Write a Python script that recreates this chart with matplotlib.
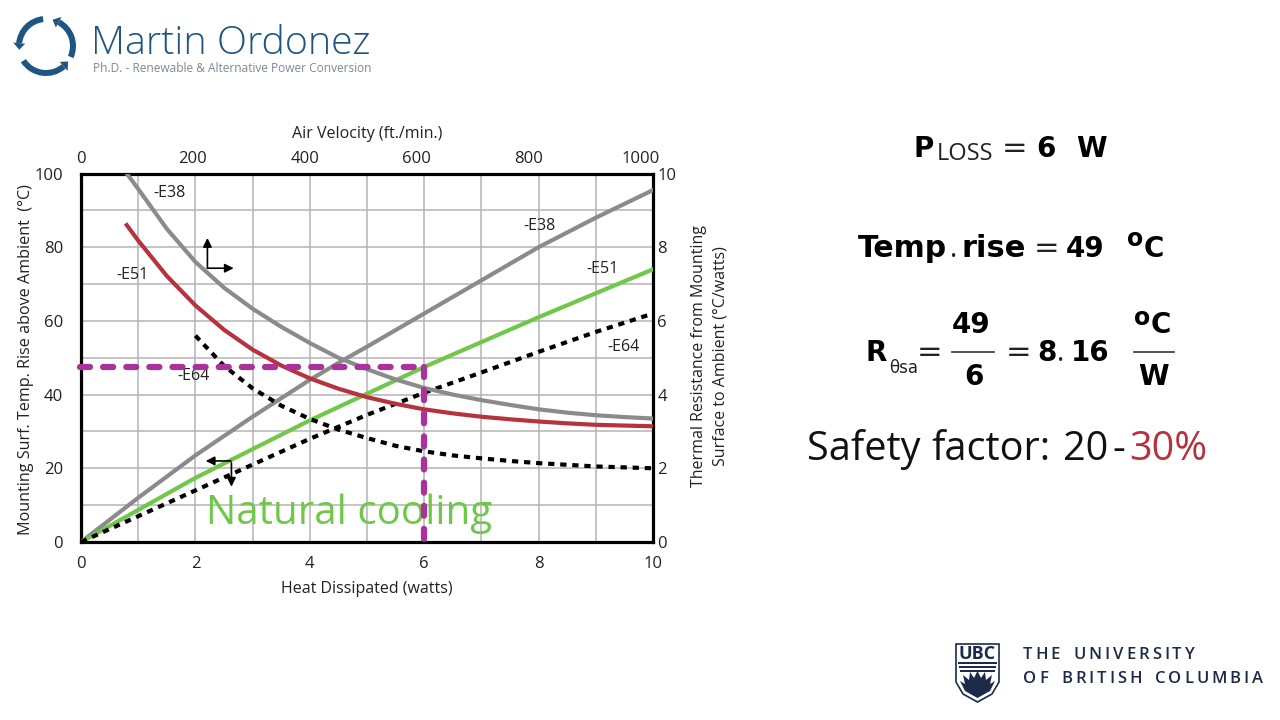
import numpy as np
import matplotlib
matplotlib.use("Agg")
import matplotlib.pyplot as plt
from matplotlib.patches import Polygon, Wedge, Rectangle

plt.rcParams["font.family"] = ["Open Sans", "DejaVu Sans"]

# chart values
x_e38_rise = [0, 1, 2, 3, 4, 4.6, 5, 6, 7, 8, 9, 10]
y_e38_rise = [0, 12, 23.5, 34, 44, 49.5, 53, 62, 71, 80, 88, 95.5]
x_e51_rise = [0, 2, 4, 6, 8, 10]
y_e51_rise = [0, 17.4, 33, 47.5, 61, 74]
x_e64_rise = [0, 1, 2, 3, 4, 5, 6, 7, 8, 9, 10]
y_e64_rise = [0, 7, 14, 21, 28, 34.5, 40.5, 46, 51.6, 57, 62]

x_e38_fall = [0.8, 1, 1.5, 2, 2.5, 3, 3.5, 4, 4.5, 5, 5.5, 6, 6.5, 7, 7.5, 8, 8.5, 9, 9.5, 10]
y_e38_fall = [100, 95.8, 85, 76, 69, 63.3, 58.4, 54, 50, 46.9, 44.1, 41.8, 40, 38.5, 37.2, 36, 35.1, 34.4, 33.9, 33.5]
x_e51_fall = [0.8, 1, 1.5, 2, 2.5, 3, 3.5, 4, 4.5, 5, 5.5, 6, 6.5, 7, 7.5, 8, 8.5, 9, 9.5, 10]
y_e51_fall = [86, 81.8, 72.2, 64.2, 57.6, 52.2, 47.9, 44.4, 41.6, 39.3, 37.5, 36, 34.9, 34, 33.3, 32.7, 32.2, 31.8, 31.6, 31.4]
x_e64_fall = [2, 2.5, 3, 3.5, 4, 4.5, 5, 5.5, 6, 6.5, 7, 7.5, 8, 9, 10]
y_e64_fall = [56, 47.8, 41.7, 37, 33.4, 30.5, 28.2, 26.1, 24.6, 23.5, 22.7, 22, 21.4, 20.5, 20]

op_x = 6
op_y = 47.5

x_ticks = [0, 2, 4, 6, 8, 10]
y_ticks = [0, 20, 40, 60, 80, 100]
top_ticks = [0, 200, 400, 600, 800, 1000]
right_ticks = [0, 2, 4, 6, 8, 10]

GRAY = "#8b8b8b"
RED = "#b7323f"
GREEN = "#70c84b"
PURPLE = "#a9329b"
NAVY = "#1f5582"
DARK = "#1c2b4a"

fig = plt.figure(figsize=(12.8, 7.2), dpi=100, facecolor="white")
ax = fig.add_axes([81 / 1280, 1 - 542 / 720, 572 / 1280, 368.5 / 720])

ax.set_xlim(0, 10)
ax.set_ylim(0, 100)
ax.set_xticks(x_ticks)
ax.set_yticks(y_ticks)
ax.set_xticks(range(0, 11), minor=True)
ax.set_yticks(range(0, 101, 10), minor=True)
ax.grid(True, which="both", color="#b4b4b4", lw=1.1)
ax.set_axisbelow(True)
ax.tick_params(which="both", length=0, labelsize=12, colors="#222222")
ax.tick_params(axis="x", pad=10)
ax.tick_params(axis="y", pad=13)
for s in ax.spines.values():
    s.set_linewidth(2.3)
ax.set_xlabel("Heat Dissipated (watts)", size=11.5, color="#222222")
ax.xaxis.set_label_coords(0.5, -0.105)
ax.set_ylabel("Mounting Surf. Temp. Rise above Ambient  (°C)", size=11.6, color="#222222")
ax.yaxis.set_label_coords(-0.082, 0.494)

ax.plot(x_e38_rise, y_e38_rise, color=GRAY, lw=3, zorder=3)
ax.plot(x_e51_rise, y_e51_rise, color=GREEN, lw=3, zorder=3)
ax.plot(x_e64_rise, y_e64_rise, color="black", lw=3, ls=(0, (1.5, 1.4)), zorder=3)
ax.plot(x_e38_fall, y_e38_fall, color=GRAY, lw=3, zorder=3)
ax.plot(x_e51_fall, y_e51_fall, color=RED, lw=3, zorder=3)
ax.plot(x_e64_fall, y_e64_fall, color="black", lw=3, ls=(0, (1.5, 1.4)), zorder=3)

for tx, ty, lab in [(1.26, 94.7, "-E38"), (0.61, 72.5, "-E51"), (1.68, 45, "-E64"),
                    (7.73, 85.8, "-E38"), (8.83, 74, "-E51"), (9.2, 53, "-E64")]:
    ax.text(tx, ty, lab, size=11.5, va="center", color="#222222", zorder=4)

ax.text(2.185, 5, "Natural cooling", size=29, color=GREEN, zorder=4)

# direction arrows
arrow = dict(arrowstyle="-|>", color="black", lw=1.2, mutation_scale=13, shrinkA=0, shrinkB=0)
ax.annotate("", xy=(2.21, 82.5), xytext=(2.21, 74.3), arrowprops=arrow, zorder=5)
ax.annotate("", xy=(2.67, 74.3), xytext=(2.21, 74.3), arrowprops=arrow, zorder=5)
ax.annotate("", xy=(2.18, 22), xytext=(2.62, 22), arrowprops=arrow, zorder=5)
ax.annotate("", xy=(2.63, 15), xytext=(2.63, 21.5), arrowprops=arrow, zorder=5)

# operating point
dash = dict(color=PURPLE, lw=4.5, ls=(0, (1.6, 2.1)), dash_capstyle="round", clip_on=False, zorder=6)
ax.plot([-0.02, op_x], [op_y, op_y], **dash)
ax.plot([op_x, op_x], [op_y, -0.5], **dash)

top = ax.twiny()
top.set_xlim(0, 1022)
top.set_xticks(top_ticks)
top.tick_params(length=0, labelsize=12, colors="#222222", pad=5)
top.set_xlabel("Air Velocity (ft./min.)", size=11.5, color="#222222")
top.xaxis.set_label_coords(0.5, 1.095)
top.spines[:].set_visible(False)

right = ax.twinx()
right.set_ylim(0, 10)
right.set_yticks(right_ticks)
right.tick_params(length=0, labelsize=12, colors="#222222", pad=3)
right.set_ylabel("Thermal Resistance from Mounting\nSurface to Ambient (°C/watts)", size=11.5,
                 color="#222222", linespacing=1.5)
right.yaxis.set_label_coords(1.066, 0.505)
right.spines[:].set_visible(False)

# everything outside the chart, placed in pixels
pg = fig.add_axes([0, 0, 1, 1], zorder=10)
pg.set_xlim(0, 1280)
pg.set_ylim(720, 0)
pg.axis("off")
pg.patch.set_alpha(0)


def txt(x, y, s, size=20, weight="normal", color="black", family=None, **kw):
    return pg.text(x, y, s, size=size, weight=weight, color=color, va="baseline",
                   family=family or ["Open Sans", "DejaVu Sans"], **kw)


def bold(x, y, s, size=20):
    return txt(x, y, s, size=size, weight="bold", family="DejaVu Sans")


def tracked(x, y, s, size, gap, **kw):
    rend = fig.canvas.get_renderer()
    for ch in s:
        if ch == " ":
            x += size * 0.75 + 1.5
            continue
        t = txt(x, y, ch, size=size, **kw)
        x += t.get_window_extent(rend).width + gap


# equations
bold(914, 157, "P")
txt(937, 160, "LOSS", size=17, color="#222222")
txt(1002, 157, "=", size=22, color="#222222", family="DejaVu Sans")
bold(1036, 157, "6")
bold(1076, 157, "W")

bold(858, 257, "Temp", size=21.5)
txt(950, 257, ".", size=20, color="#222222")
bold(961, 257, "rise", size=22)
txt(1034, 257, "=", size=22, color="#222222", family="DejaVu Sans")
bold(1066, 257, "49")
txt(1127, 246, "o", size=17, weight="bold", family="DejaVu Sans")
bold(1144, 257, "C")

bold(866, 361, "R")
txt(889, 373, "θsa", size=12, color="#222222", family="DejaVu Sans")
txt(917, 361, "=", size=22, color="#222222", family="DejaVu Sans")
bold(952, 333, "49")
pg.plot([952, 994], [352, 352], color="#333333", lw=1.2)
bold(964, 385, "6")
txt(1006, 361, "=", size=22, color="#222222", family="DejaVu Sans")
bold(1037, 361, "8")
txt(1057, 361, ".", size=20, color="#222222")
bold(1071, 361, "16")
txt(1134, 325, "o", size=17, weight="bold", family="DejaVu Sans")
bold(1151, 333, "C")
pg.plot([1134, 1174], [352, 352], color="#333333", lw=1.2)
bold(1138, 385, "W")

txt(807, 460, "Safety", size=28.5, color="#111111")
txt(931, 460, "factor:", size=28.5, color="#111111")
txt(1063, 460, "20", size=28.5, color="#111111")
txt(1112, 460, "-", size=28.5, color="#111111")
txt(1129, 460, "30%", size=28.5, color=RED)

# Martin Ordonez logo: arcs run clockwise on screen from the arrowhead
for base, end in [(-62, 24), (49, 147), (186, 264)]:
    pg.add_patch(Wedge((46, 46), 30, base, end, width=6, color=NAVY, lw=0))
    a = np.radians(base)
    tip = a - np.radians(14)
    pg.add_patch(Polygon([(46 + 33 * np.cos(a), 46 + 33 * np.sin(a)), (46 + 21 * np.cos(a), 46 + 21 * np.sin(a)),
                          (46 + 27 * np.cos(tip), 46 + 27 * np.sin(tip))],
                         color=NAVY, lw=0))
txt(91, 54, "Martin Ordonez", size=28.4, color=NAVY, weight="light")
txt(93, 72, "Ph.D. - Renewable & Alternative Power Conversion", size=8.6, color="#7b8a97")

# UBC crest
pg.add_patch(Polygon([(956, 644), (999, 644), (999, 682), (992, 694), (977.5, 702), (963, 694), (956, 682)],
                     fc="white", ec=DARK, lw=1.2))
txt(977.5, 659, "UBC", size=13, weight="bold", color=DARK, ha="center")
pg.add_patch(Rectangle((958, 662), 39, 1.5, color=DARK, lw=0))
pg.add_patch(Rectangle((959, 666), 37, 1.5, color=DARK, lw=0))
pg.add_patch(Rectangle((960, 670), 35, 1.5, color=DARK, lw=0))
pg.add_patch(Polygon([(960, 681), (965, 684), (963, 675), (969, 680), (970, 672), (974, 678), (977.5, 671),
                      (981, 678), (985, 672), (986, 680), (992, 675), (990, 684), (995, 681), (990, 691),
                      (977.5, 698), (965, 691)], color=DARK, lw=0))
tracked(1023, 659, "THE UNIVERSITY", 12, 2.9, weight="semibold", color=DARK)
tracked(1023, 683, "OF BRITISH COLUMBIA", 12, 2.9, weight="semibold", color=DARK)

fig.savefig("out.png", dpi=100)
